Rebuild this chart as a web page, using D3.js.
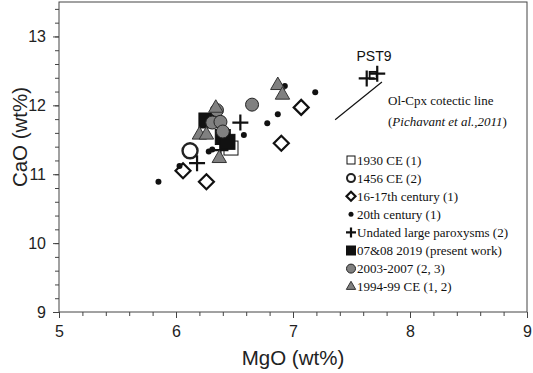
<!DOCTYPE html>
<html>
<head>
<meta charset="utf-8">
<script src="https://cdn.jsdelivr.net/npm/d3@7"></script>
<style>
	body { margin: 0; background: #fff; }
	svg { display: block; }
	.tick text { font-family: "Liberation Sans", Arial, sans-serif; }
</style>
</head>
<body>
<svg id="chart" width="533" height="373"></svg>
<script>

// data: [MgO, CaO]
var ce1930 = [ [6.47, 11.38] ];
var ce1456 = [ [6.12, 11.34] ];
var c1617 = [ [6.06, 11.05], [6.26, 10.89], [6.90, 11.45], [7.07, 11.97] ];
var c20 = [ [5.85, 10.89], [6.03, 11.12], [6.28, 11.33], [6.31, 11.36], [6.58, 11.57],
	[6.78, 11.74], [6.87, 11.87], [6.93, 12.28], [7.19, 12.19] ];
var undated = [ [6.18, 11.16], [6.38, 11.35], [6.55, 11.75], [7.63, 12.39], [7.72, 12.46] ];
var pst9 = [ [7.685, 12.435] ];
var present = [ [6.26, 11.78], [6.40, 11.54], [6.44, 11.47] ];
var y0307 = [ [6.35, 11.93], [6.31, 11.75], [6.38, 11.76], [6.40, 11.62], [6.65, 12.01] ];
var y9499 = [ [6.34, 11.96], [6.20, 11.57], [6.26, 11.57], [6.37, 11.23], [6.87, 12.29], [6.91, 12.15] ];
var cotectic = [ [7.36, 11.79], [7.76, 12.34] ];

var legendLabels = [ "1930 CE (1)", "1456 CE (2)", "16-17th century (1)", "20th century (1)",
	"Undated large paroxysms (2)", "07&08 2019 (present work)", "2003-2007 (2, 3)", "1994-99 CE (1, 2)" ];

var xTicks = [5, 6, 7, 8, 9];
var yTicks = [9, 10, 11, 12, 13];

var svg = d3.select("#chart");
var [ mT, mR, mB, mL ] = [ 2, 6, 61, 59 ];		// marginTop, marginRight, ...
var width = 533, height = 373;

var x = d3.scaleLinear([5, 9], [ mL, width-mR ]);
var y = d3.scaleLinear([9, 13.5], [ height-mB, mT ]);

var axisColor = "#444";

// frame
svg.append("rect")
	.attr("x", mL).attr("y", mT)
	.attr("width", width-mR-mL).attr("height", height-mB-mT)
	.attr("fill", "none").attr("stroke", axisColor);

// minor ticks
svg.append("g")
	.attr("transform", `translate(0, ${height-mB})`)
	.call(d3.axisBottom(x).tickValues(d3.range(5, 9.001, 0.2)).tickSize(4).tickFormat(""))
	.call(g => g.select(".domain").remove());
svg.append("g")
	.attr("transform", `translate(${mL}, 0)`)
	.call(d3.axisLeft(y).tickValues(d3.range(9, 13.501, 0.2)).tickSize(4).tickFormat(""))
	.call(g => g.select(".domain").remove());

// major ticks
svg.append("g")
	.attr("transform", `translate(0, ${height-mB})`)
	.call(d3.axisBottom(x).tickValues(xTicks).tickSize(6).tickPadding(8).tickFormat(d3.format("d")))
	.call(g => g.select(".domain").remove())
	.call(g => g.selectAll("text").attr("font-size", 16).attr("fill", "#222"));
svg.append("g")
	.attr("transform", `translate(${mL}, 0)`)
	.call(d3.axisLeft(y).tickValues(yTicks).tickSize(6).tickPadding(7).tickFormat(d3.format("d")))
	.call(g => g.select(".domain").remove())
	.call(g => g.selectAll("text").attr("font-size", 16).attr("fill", "#222"));

svg.selectAll(".tick line").attr("stroke", axisColor);

// axis titles
svg.append("text")
	.attr("x", (mL + width - mR) / 2).attr("y", 365)
	.attr("text-anchor", "middle")
	.attr("font-family", "Liberation Sans, Arial, sans-serif")
	.attr("font-size", 20.5).attr("fill", "#222")
	.text("MgO (wt%)");
svg.append("text")
	.attr("transform", "translate(27, 137) rotate(-90)")
	.attr("text-anchor", "middle")
	.attr("font-family", "Liberation Sans, Arial, sans-serif")
	.attr("font-size", 20.5).attr("fill", "#222")
	.text("CaO (wt%)");

// marker painters
function sq(g, s, fill)	{
	g.append("rect").attr("x", -s/2).attr("y", -s/2).attr("width", s).attr("height", s)
		.attr("fill", fill).attr("stroke", "#111").attr("stroke-width", fill === "none" ? 2.2 : 1);
}
function circ(g, r, fill, sw)	{
	g.append("circle").attr("r", r).attr("fill", fill).attr("stroke", fill === "#111" ? "none" : "#222")
		.attr("stroke-width", sw);
}
function diam(g, s)	{
	g.append("path").attr("d", `M0,${-s}L${s},0L0,${s}L${-s},0Z`)
		.attr("fill", "#fff").attr("stroke", "#111").attr("stroke-width", 2.2);
}
function cross(g, s)	{
	g.append("path").attr("d", `M${-s},0H${s}M0,${-s}V${s}`)
		.attr("stroke", "#111").attr("stroke-width", 2.2);
}
function tri(g, s)	{
	g.append("path").attr("d", d3.symbol(d3.symbolTriangle, s))
		.attr("fill", "#808080").attr("stroke", "#333").attr("stroke-width", 1);
}

var series = [
	{ data: ce1930, draw: g => sq(g, 14, "#fff"), key: g => sq(g, 8, "#fff") },
	{ data: ce1456, draw: g => circ(g, 7.5, "#fff", 2.4), key: g => circ(g, 4, "#fff", 2) },
	{ data: c1617, draw: g => diam(g, 7.5), key: g => diam(g, 4.5) },
	{ data: c20, draw: g => circ(g, 3, "#111", 0), key: g => circ(g, 2.5, "#111", 0) },
	{ data: undated, draw: g => cross(g, 8), key: g => cross(g, 5) },
	{ data: present, draw: g => sq(g, 15, "#111"), key: g => sq(g, 9, "#111") },
	{ data: y0307, draw: g => circ(g, 6.5, "#808080", 1), key: g => circ(g, 4.5, "#808080", 1) },
	{ data: y9499, draw: g => tri(g, 90), key: g => tri(g, 38) },
];

// PST9 small square behind its crosses
svg.append("g").selectAll("rect")
	.data(pst9)
	.join("rect")
	.attr("x", d => x(d[0]) - 3.5).attr("y", d => y(d[1]) - 3.5)
	.attr("width", 7).attr("height", 7)
	.attr("fill", "none").attr("stroke", "#111").attr("stroke-width", 1.8);

series.forEach(s => {
	svg.append("g").selectAll("g")
		.data(s.data)
		.join("g")
		.attr("transform", d => `translate(${x(d[0])}, ${y(d[1])})`)
		.each(function() { s.draw(d3.select(this)); });
});

// cotectic line
svg.append("path")
	.attr("d", d3.line().x(d => x(d[0])).y(d => y(d[1]))(cotectic))
	.attr("stroke", "#111").attr("stroke-width", 1.2).attr("fill", "none");

svg.append("text")
	.attr("x", 374).attr("y", 61)
	.attr("text-anchor", "middle")
	.attr("font-family", "Liberation Sans, Arial, sans-serif")
	.attr("font-size", 14).attr("fill", "#111")
	.text("PST9");

var note = svg.append("text")
	.attr("font-family", "Liberation Serif, 'Times New Roman', serif")
	.attr("font-size", 13).attr("fill", "#111");
note.append("tspan").attr("x", 388).attr("y", 105).text("Ol-Cpx cotectic line");
var l2 = note.append("tspan").attr("x", 388).attr("y", 126);
l2.append("tspan").text("(");
l2.append("tspan").attr("font-style", "italic").text("Pichavant et al.,2011");
l2.append("tspan").text(")");

// legend
var legend = svg.append("g")
	.selectAll("g")
	.data(legendLabels)
	.join("g")
	.attr("transform", (d,i) => `translate(351, ${160 + i*18.1})`);

legend.each(function(d, i) { series[i].key(d3.select(this)); });
legend.append("text")
	.attr("x", 6).attr("y", 4.5)
	.attr("font-family", "Liberation Serif, 'Times New Roman', serif")
	.attr("font-size", 13).attr("fill", "#111")
	.text(d => d);

</script>
</body>
</html>
